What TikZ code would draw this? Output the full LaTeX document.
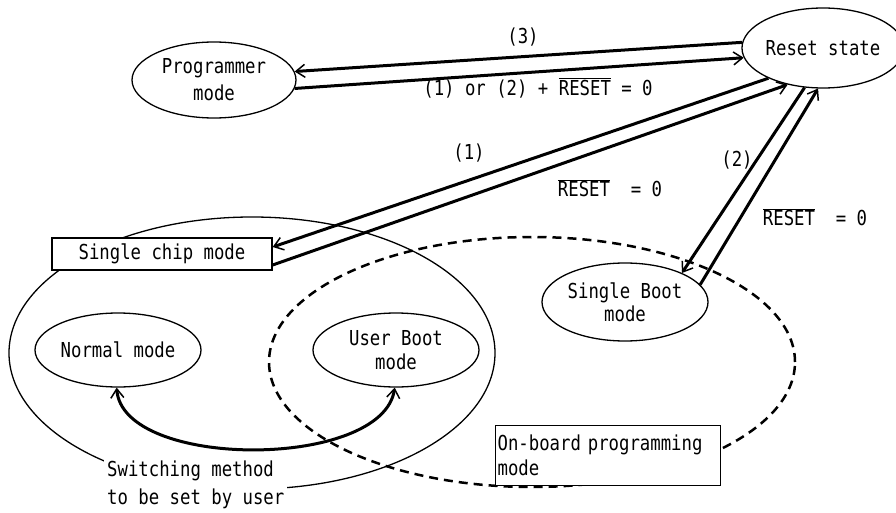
\documentclass[tikz,border=0pt]{standalone}
\usepackage{fontspec}
\setmonofont[FakeStretch=0.84]{DejaVu Sans Mono}
\usetikzlibrary{shapes.geometric,arrows.meta}
\newcommand\rstbar{$\overline{\hbox{RESET}}$}
\newcommand\fsz[1]{\ttfamily\fontsize{20.6pt}{#1pt}\selectfont}
\tikzset{
  modeell/.style={ellipse, draw, line width=1.3pt, minimum width=164pt, minimum height=76pt, inner sep=0pt, align=center},
  boxnode/.style={draw, line width=1.3pt, fill=white, inner sep=0pt},
  barb/.tip={Straight Barb[length=9pt,width=13pt,line width=1.5pt]},
  trans/.style={line width=3pt, -barb},
  lbl/.style={inner sep=0pt}
}
\begin{document}
\begin{tikzpicture}[x=1pt,y=-1pt, font=\fsz{26}]
\useasboundingbox (0,0) rectangle (896,513);
% region ellipses
\node[ellipse, draw, line width=1.3pt, minimum width=486pt, minimum height=272pt, inner sep=0pt] (chipregion) at (252,353) {};
\node[ellipse, draw, line width=2.5pt, dash pattern=on 9pt off 6pt, minimum width=526pt, minimum height=250pt, inner sep=0pt] (obregion) at (532,362) {};
% states
\node[modeell, minimum width=160pt, minimum height=80pt] (reset) at (823,48) {Reset state};
\node[modeell, font=\fsz{27}] (prog) at (214,80) {Programmer\\mode};
\node[modeell, minimum width=166pt, minimum height=78pt, font=\fsz{23}] (sboot) at (625,302) {Single Boot\\mode};
\node[modeell, minimum width=166pt, minimum height=74pt] (normal) at (118,350) {Normal mode};
\node[modeell, minimum width=166pt, minimum height=74pt, font=\fsz{24}] (uboot) at (396,350) {User Boot\\mode};
% boxes
\node[boxnode, minimum width=220pt, minimum height=32pt] (chip) at (162,254) {Single chip mode};
\node[boxnode, anchor=north west, minimum width=225pt, minimum height=60pt, align=left, text width=221pt, inner xsep=2pt, font=\fsz{25}] (onboard) at (495,425) {On-board programming\\mode};
\node[fill=white, anchor=north west, align=left, inner sep=3pt, font=\fsz{28}] (switch) at (104,458) {Switching method\\to be set by user};
% transitions
\draw[trans] (reset.176) -- (prog.6);
\draw[trans] (prog.-6) -- (reset.187);
\draw[trans] (reset.209) -- ([yshift=7pt]chip.east);
\draw[trans] ([yshift=-11pt]chip.east) -- (reset.226);
\draw[trans] (reset.245) -- (sboot.27);
\draw[trans] (sboot.13) -- (reset.263);
\draw[line width=3pt, barb-barb] (normal.-92) .. controls (122,470) and (383,470) .. (uboot.-92);
% labels
\node[lbl] (l3) at (523,37) {(3)};
\node[lbl] (l12) at (538,88) {(1) or (2) + \rstbar\ = 0};
\node[lbl] (l1) at (469,153) {(1)};
\node[lbl] (l1r) at (610,188) {\rstbar\ \ = 0};
\node[lbl] (l2) at (737,160) {(2)};
\node[lbl] (l2r) at (815,217) {\rstbar\ \ = 0};
\end{tikzpicture}
\end{document}
